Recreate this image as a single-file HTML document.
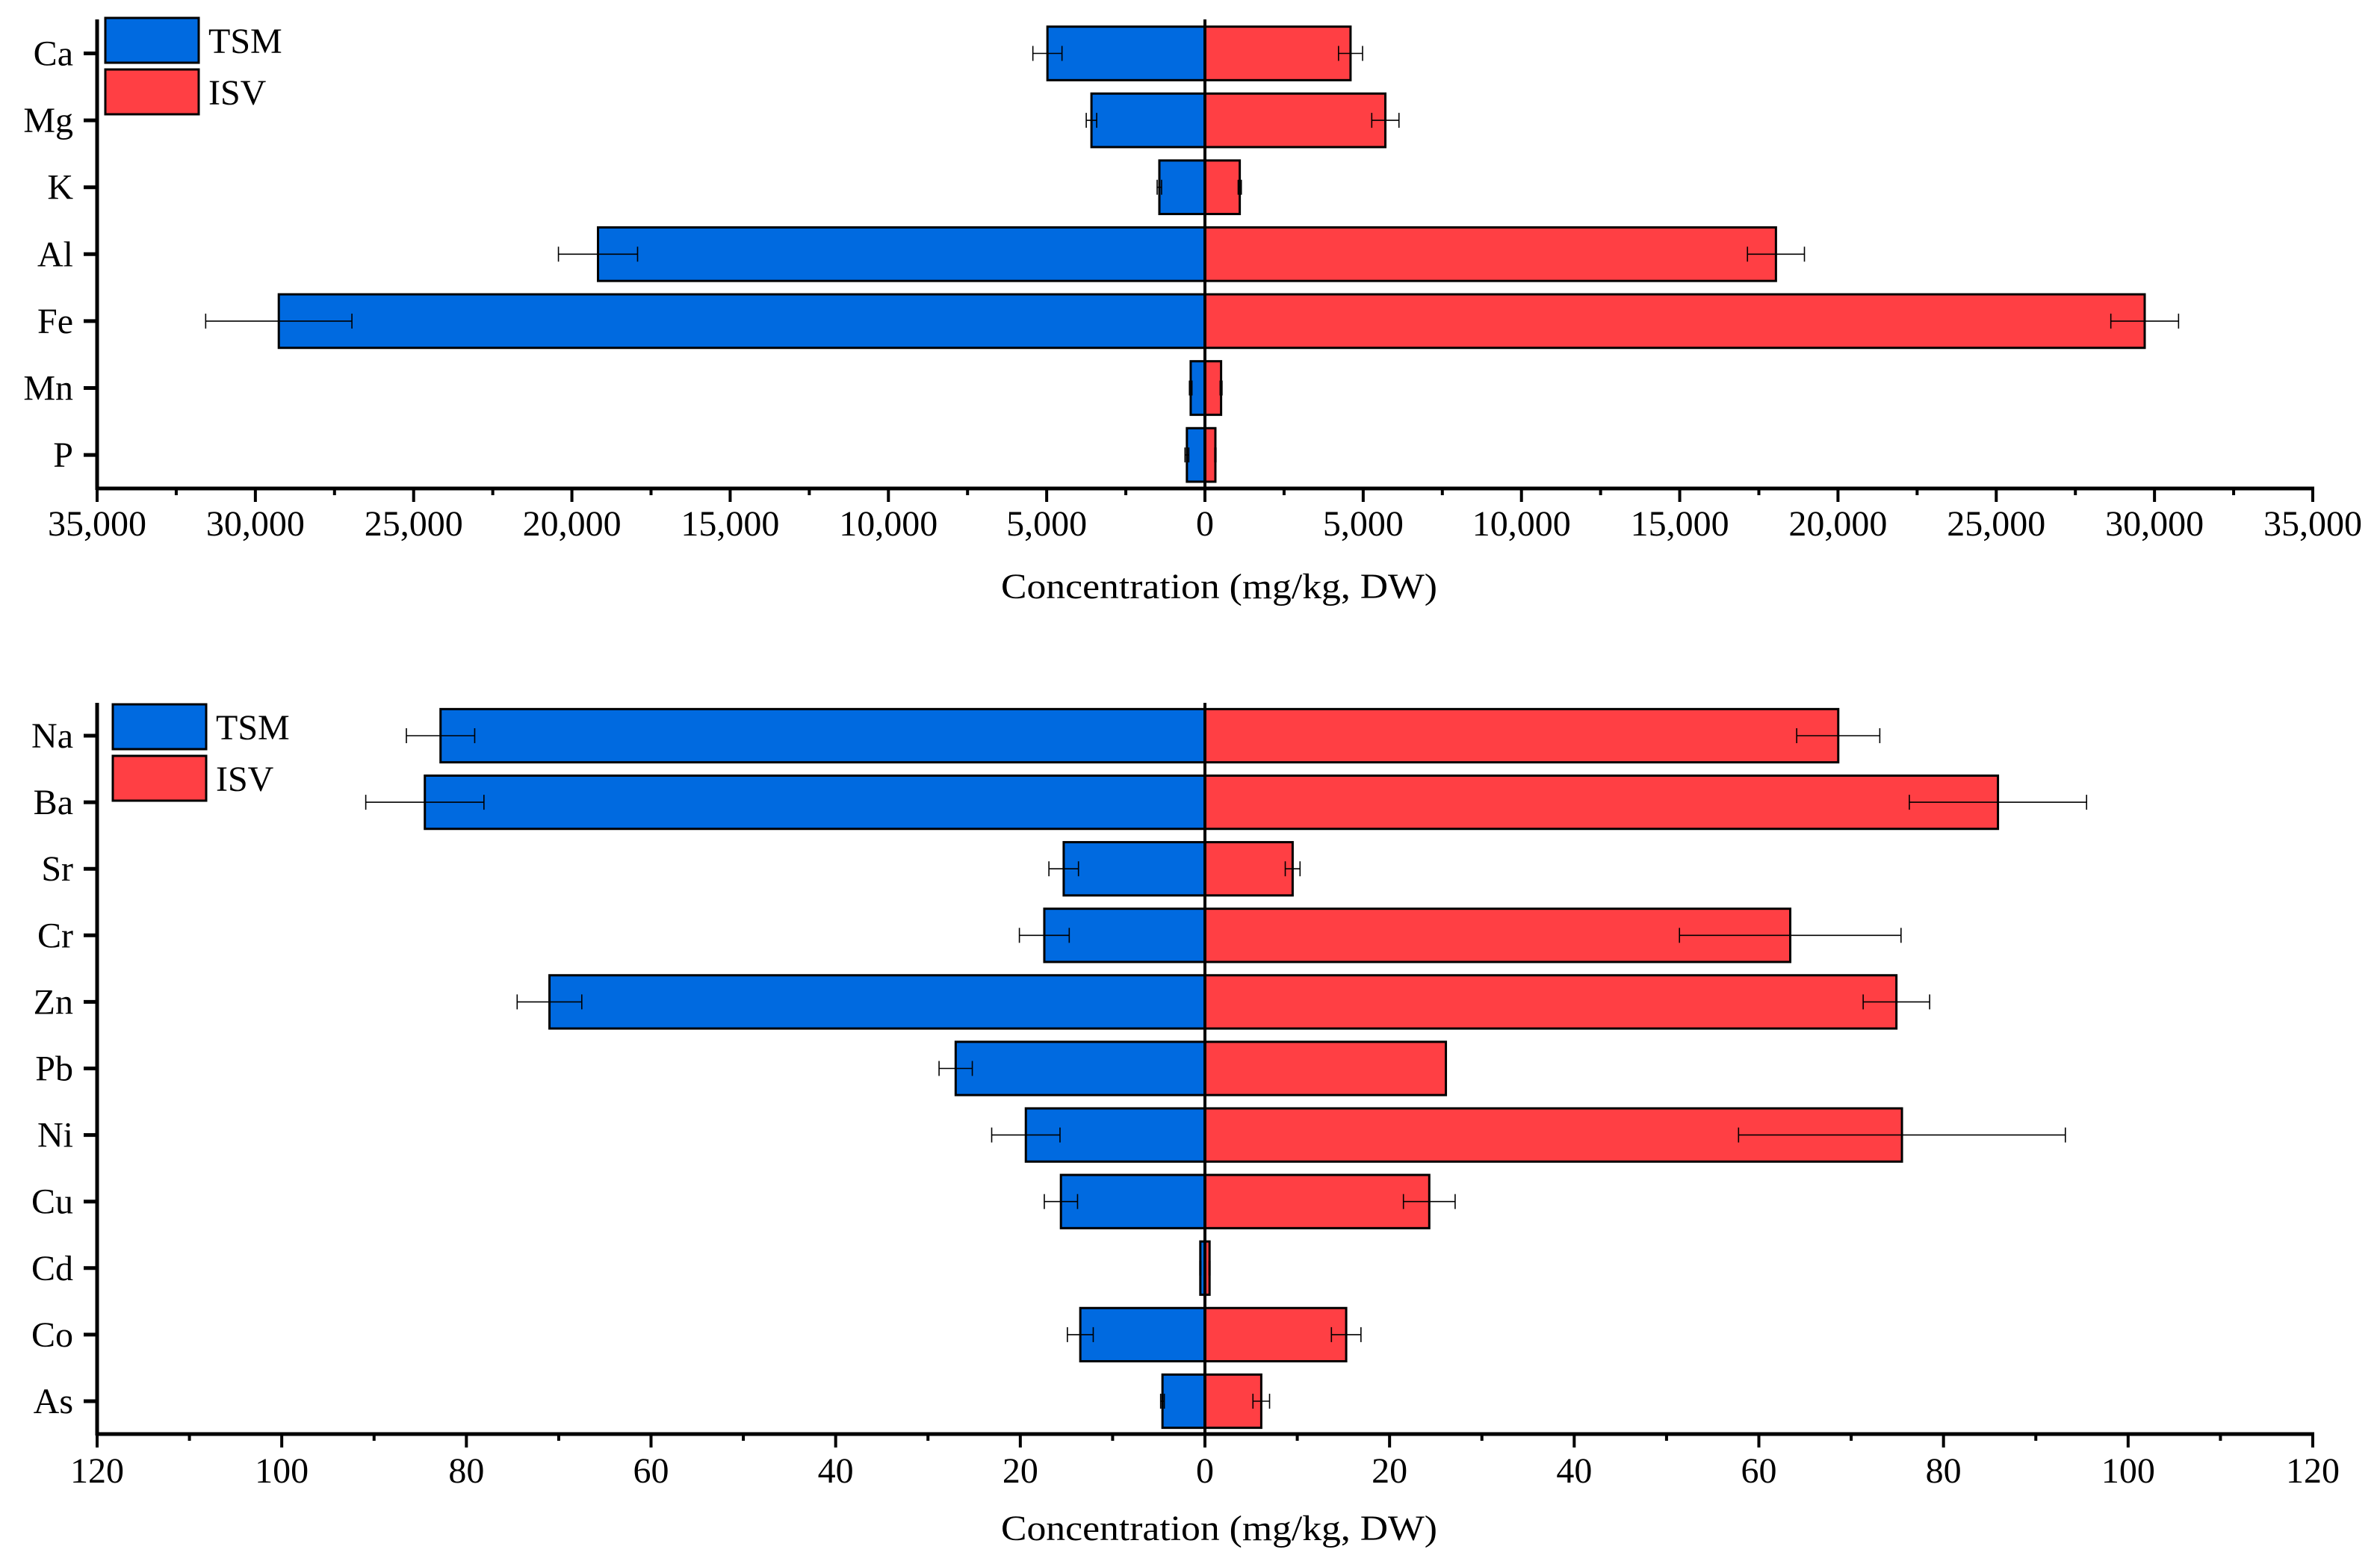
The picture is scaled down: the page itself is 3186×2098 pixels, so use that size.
<!DOCTYPE html>
<html><head><meta charset="utf-8"><style>
html,body{margin:0;padding:0;background:#fff;}
svg{display:block;font-family:"Liberation Serif",serif;}
</style></head><body>
<svg id="chart" width="3186" height="2098" viewBox="0 0 3186 2098" xmlns="http://www.w3.org/2000/svg"></svg>
<script>
// ---- Top panel data ----
const topCategories = ["Ca","Mg","K","Al","Fe","Mn","P"];
const topTSM = [4976, 3585, 1440, 19175, 29260, 450, 570];
const topTSMErr = [460, 165, 70, 1250, 2310, 40, 60];
const topISV = [4600, 5700, 1100, 18040, 29690, 510, 330];
const topISVErr = [380, 430, 50, 900, 1070, 30, 20];
const topTicks = [-35000,-30000,-25000,-20000,-15000,-10000,-5000,0,5000,10000,15000,20000,25000,30000,35000];
const topTickLabels = ["35,000","30,000","25,000","20,000","15,000","10,000","5,000","0","5,000","10,000","15,000","20,000","25,000","30,000","35,000"];
// ---- Bottom panel data ----
const botCategories = ["Na","Ba","Sr","Cr","Zn","Pb","Ni","Cu","Cd","Co","As"];
const botTSM = [82.8, 84.5, 15.3, 17.4, 71.0, 27.0, 19.4, 15.6, 0.5, 13.5, 4.6];
const botTSMErr = [3.7, 6.4, 1.6, 2.7, 3.5, 1.8, 3.7, 1.8, 0.05, 1.4, 0.2];
const botISV = [68.6, 85.9, 9.5, 63.4, 74.9, 26.1, 75.5, 24.3, 0.5, 15.3, 6.1];
const botISVErr = [4.5, 9.6, 0.8, 12.0, 3.6, 0, 17.7, 2.8, 0.05, 1.6, 0.9];
const botTicks = [-120,-100,-80,-60,-40,-20,0,20,40,60,80,100,120];
const botTickLabels = ["120","100","80","60","40","20","0","20","40","60","80","100","120"];

const NS = "http://www.w3.org/2000/svg";
const svg = document.getElementById("chart");
function mk(tag, attrs, parent){
  const e = document.createElementNS(NS, tag);
  for (const k in attrs) e.setAttribute(k, attrs[k]);
  (parent||svg).appendChild(e);
  return e;
}
const BLUE="#006AE0", RED="#FF3F44";

function panel(p){
  const g = mk("g", {});
  
  
  const L=130, R=3096, Z=1613;
  const x = v => Z + v*(R-Z)/p.max;
  const y = i => p.y0 + i*p.step;
  const bh = p.step*0.8;
  // bars
  p.cats.forEach((c,i)=>{
    const b1 = mk("rect",{x:x(-p.tsm[i]),y:y(i)-bh/2,width:x(0)-x(-p.tsm[i]),height:bh,fill:BLUE,stroke:"#000","stroke-width":3},g);
    
    
    const b2 = mk("rect",{x:x(0),y:y(i)-bh/2,width:x(p.isv[i])-x(0),height:bh,fill:RED,stroke:"#000","stroke-width":3},g);
    
    
  });
  // error bars
  p.cats.forEach((c,i)=>{
    [[-p.tsm[i],p.tsmE[i],'tsm'],[p.isv[i],p.isvE[i],'isv']].forEach(([v,e,s])=>{
      if(!e) return;
      const eg = mk("g",{stroke:"#000","stroke-width":1.6},g);
      
      
      const a=x(v-e), b=x(v+e), yy=y(i);
      mk("line",{x1:a,y1:yy,x2:b,y2:yy},eg);
      mk("line",{x1:a,y1:yy-10,x2:a,y2:yy+10},eg);
      mk("line",{x1:b,y1:yy-10,x2:b,y2:yy+10},eg);
    });
  });
  // center line
  const cl = mk("line",{x1:x(0),y1:p.top,x2:x(0),y2:p.axisY,stroke:"#000","stroke-width":4},g);
  
  
  // axes
  const ya = mk("line",{x1:L,y1:p.top,x2:L,y2:p.axisY+2,stroke:"#000","stroke-width":5},g);
  
  
  const xa = mk("line",{x1:L-2,y1:p.axisY,x2:R+2,y2:p.axisY,stroke:"#000","stroke-width":5},g);
  
  
  // y ticks + labels
  p.cats.forEach((c,i)=>{
    mk("line",{x1:L-18,y1:y(i),x2:L,y2:y(i),stroke:"#000","stroke-width":5},g);
    const t = mk("text",{x:98,y:y(i)+16,"text-anchor":"end","font-size":48,fill:"#000"},g);
    t.textContent = c;
    
    
  });
  // x ticks
  p.ticks.forEach((v,i)=>{
    mk("line",{x1:x(v),y1:p.axisY,x2:x(v),y2:p.axisY+18,stroke:"#000","stroke-width":4},g);
    if(i<p.ticks.length-1){
      const m=(v+p.ticks[i+1])/2;
      mk("line",{x1:x(m),y1:p.axisY,x2:x(m),y2:p.axisY+9,stroke:"#000","stroke-width":4},g);
    }
    const t = mk("text",{x:x(v),y:p.labelY,"text-anchor":"middle","font-size":48,fill:"#000"},g);
    t.textContent = p.labels[i];
    
    
  });
  const tt = mk("text",{x:1632,y:p.titleY,"text-anchor":"middle","font-size":48,fill:"#000",textLength:584,lengthAdjust:"spacingAndGlyphs"},g);
  tt.textContent = "Concentration (mg/kg, DW)";
  
  
  // legend
  const lg = mk("g",{},g);
  
  
  [["TSM",BLUE,p.legY],["ISV",RED,p.legY+69]].forEach(([n,col,ly])=>{
    const e = mk("g",{},lg);
    
    
    mk("rect",{x:p.legX,y:ly,width:125,height:60,fill:col,stroke:"#000","stroke-width":3},e);
    const t = mk("text",{x:p.legX+138,y:ly+47,"font-size":48,fill:"#000"},e);
    t.textContent = n;
  });
}

panel({name:"top-panel",cats:topCategories,tsm:topTSM,tsmE:topTSMErr,isv:topISV,isvE:topISVErr,
  max:35000,ticks:topTicks,labels:topTickLabels,y0:71.5,step:89.6,top:26,axisY:654,labelY:717,titleY:801,legX:141,legY:24});
panel({name:"bottom-panel",cats:botCategories,tsm:botTSM,tsmE:botTSMErr,isv:botISV,isvE:botISVErr,
  max:120,ticks:botTicks,labels:botTickLabels,y0:985,step:89.1,top:941,axisY:1920,labelY:1985,titleY:2062,legX:151,legY:943});
</script>
</body></html>
